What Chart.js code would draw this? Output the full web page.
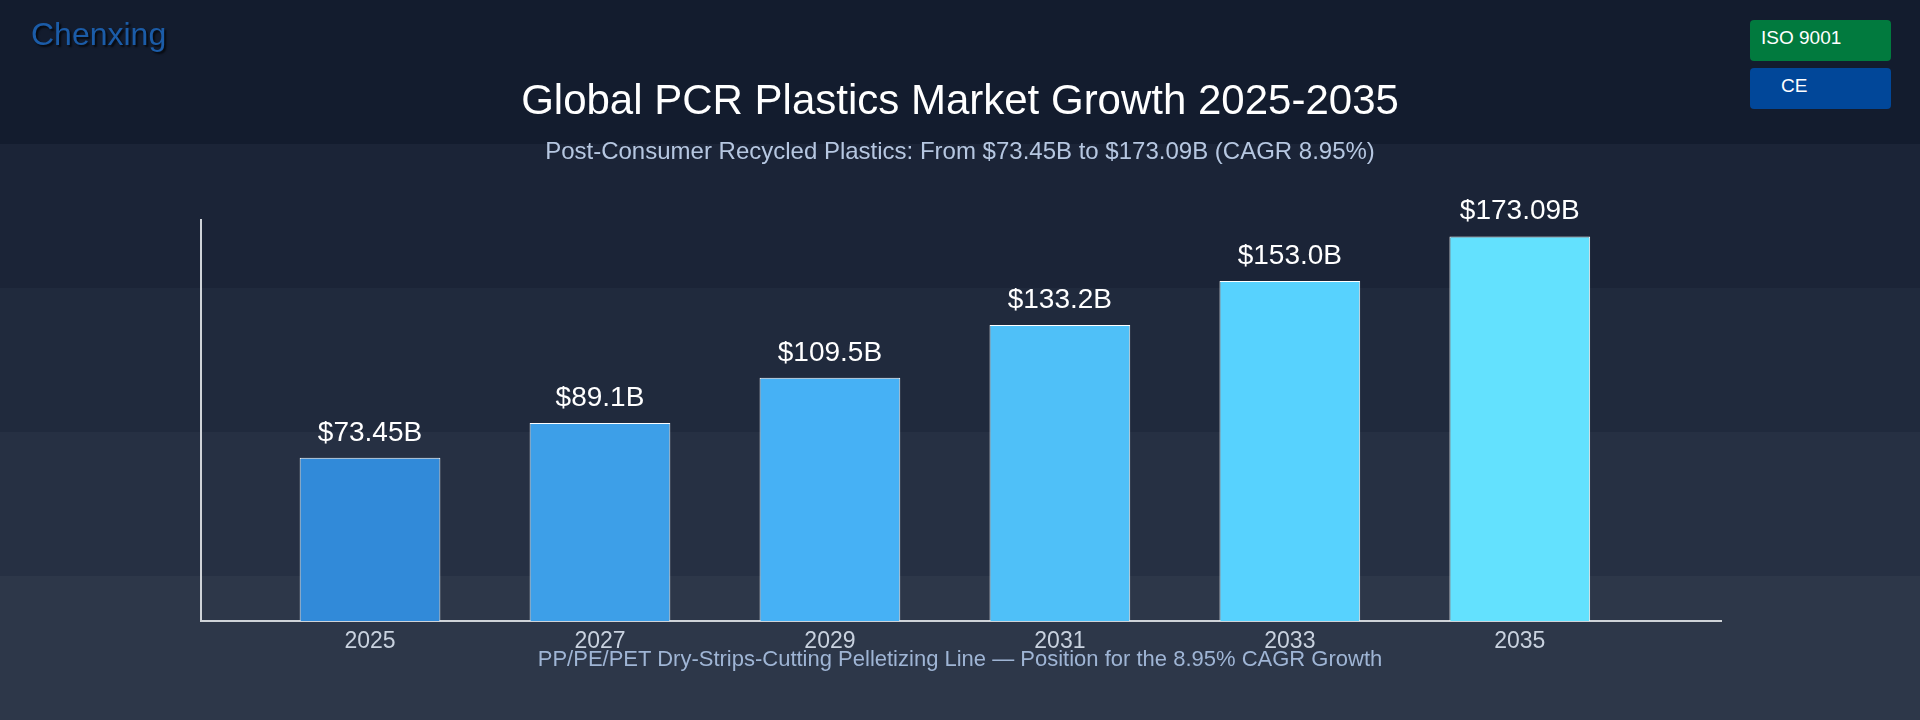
<!DOCTYPE html>
<html>
<head>
<meta charset="utf-8">
<script src="https://cdn.jsdelivr.net/npm/chart.js@4.4.1/dist/chart.umd.min.js"></script>
<style>
  html, body { margin:0; padding:0; }
  body {
    width:1920px; height:720px; overflow:hidden; position:relative;
    font-family:"Liberation Sans", Arial, Helvetica, sans-serif;
    background: linear-gradient(to bottom,
      #131c2e 0px, #131c2e 144px,
      #1b2437 144px, #1b2437 288px,
      #202a3d 288px, #202a3d 432px,
      #263043 432px, #263043 576px,
      #2d3749 576px, #2d3749 720px);
  }
  #chart { position:absolute; left:0; top:0; }
  .txt { position:absolute; white-space:nowrap; }
  #logo { left:31px; top:14px; font-size:32px; line-height:40px; color:#1b5ca8; text-shadow:2px 2px 2px rgba(0,0,0,0.7); }
  #title { left:0; width:1920px; text-align:center; top:75px; font-size:42px; line-height:50px; color:#ffffff; }
  #subtitle { left:0; width:1920px; text-align:center; top:136px; font-size:24px; line-height:30px; color:#b6c7e1; }
  #footer { left:0; width:1920px; text-align:center; top:644px; font-size:22px; line-height:30px; color:#9fb5d5; }
  .badge { position:absolute; left:1750px; width:141px; height:41px; border-radius:4px; color:#ffffff; font-size:19px; line-height:36px; box-sizing:border-box; }
  #iso { top:20px; background:#017a3e; padding-left:11px; }
  #ce { top:68px; background:#014799; padding-left:31px; }
</style>
</head>
<body>
<canvas id="chart" width="1920" height="720"></canvas>
<div class="txt" id="logo">Chenxing</div>
<div class="txt" id="title">Global PCR Plastics Market Growth 2025-2035</div>
<div class="txt" id="subtitle">Post-Consumer Recycled Plastics: From $73.45B to $173.09B (CAGR 8.95%)</div>
<div class="txt" id="footer">PP/PE/PET Dry-Strips-Cutting Pelletizing Line — Position for the 8.95% CAGR Growth</div>
<div class="badge" id="iso">ISO 9001</div>
<div class="badge" id="ce">CE</div>
<script>
const years = [2025, 2027, 2029, 2031, 2033, 2035];
const tickLabels = ['2025', '2027', '2029', '2031', '2033', '2035'];
const marketValues = [73.45, 89.1, 109.5, 133.2, 153.0, 173.09];
const valueLabels = ['$73.45B', '$89.1B', '$109.5B', '$133.2B', '$153.0B', '$173.09B'];
const barColors = ['#318ad9', '#3d9fe8', '#46b1f5', '#4fc0f8', '#57d2fe', '#63e1fe'];

const FONT = '"Liberation Sans", Arial, Helvetica, sans-serif';

const valueLabelPlugin = {
  id: 'valueLabels',
  afterDatasetsDraw(chart) {
    const ctx = chart.ctx;
    const meta = chart.getDatasetMeta(0);
    ctx.save();
    ctx.font = '28px ' + FONT;
    ctx.fillStyle = '#ffffff';
    ctx.textAlign = 'center';
    ctx.textBaseline = 'alphabetic';
    meta.data.forEach((bar, i) => {
      ctx.fillText(valueLabels[i], bar.x, bar.y - 17);
    });
    ctx.restore();
  }
};

new Chart(document.getElementById('chart'), {
  type: 'bar',
  data: {
    datasets: [{
      data: years.map((yr, i) => ({ x: yr, y: marketValues[i] })),
      backgroundColor: barColors,
      borderColor: '#ffffff',
      borderWidth: 1,
      barPercentage: 0.612,
      categoryPercentage: 1
    }]
  },
  options: {
    responsive: false,
    animation: false,
    layout: { padding: { left: 201, right: 199, top: 220, bottom: 0 } },
    plugins: { legend: { display: false }, tooltip: { enabled: false }, title: { display: false } },
    scales: {
      x: {
        type: 'linear',
        min: 2023.53,
        max: 2036.75,
        offset: false,
        afterBuildTicks: (s) => { s.ticks = years.map(v => ({ value: v })); },
        afterFit: (s) => { s.height = 99; },
        ticks: {
          callback: (v, i) => tickLabels[i],
          color: '#c9d2df',
          font: { family: FONT, size: 23 },
          padding: 7,
          maxRotation: 0,
          autoSkip: false
        },
        grid: { display: false, drawTicks: false },
        border: { display: true, color: '#cfd3d8', width: 2 }
      },
      y: {
        min: 0,
        max: 180.5,
        afterFit: (s) => { s.width = 0; },
        ticks: { display: false },
        grid: { display: false, drawTicks: false },
        border: { display: true, color: '#cfd3d8', width: 2 }
      }
    }
  },
  plugins: [valueLabelPlugin]
});
</script>
</body>
</html>
